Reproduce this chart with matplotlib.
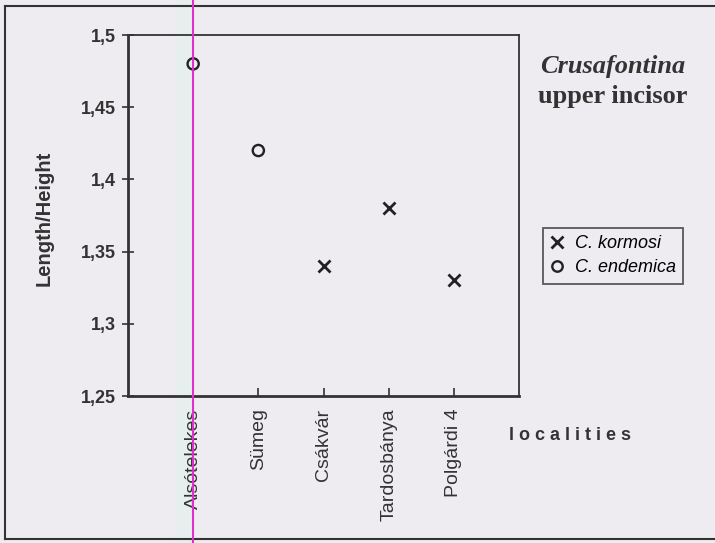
import matplotlib.pyplot as plt
from matplotlib.lines import Line2D
from matplotlib.patches import Rectangle

localities = ['Alsótelekes', 'Sümeg', 'Csákvár', 'Tardosbánya', 'Polgárdi 4']
kormosi_pos = [3, 4, 5]
kormosi_vals = [1.34, 1.38, 1.33]
endemica_pos = [1, 2]
endemica_vals = [1.48, 1.42]
yticks = [1.25, 1.3, 1.35, 1.4, 1.45, 1.5]
ytick_labels = ['1,25', '1,3', '1,35', '1,4', '1,45', '1,5']

bg = '#eeecf0'
ink = '#333333'
W, H = 715, 543

fig = plt.figure(figsize=(7.15, 5.43), dpi=100, facecolor=bg)
# faint cyan band of the scan next to the magenta line
fig.add_artist(Rectangle((175 / W, 0), 18 / W, 1, transform=fig.transFigure,
                         facecolor='#e7efee', edgecolor='none', zorder=0))

ax = fig.add_axes([128 / W, 1 - 396 / H, 391 / W, 361 / H])
ax.patch.set_visible(False)

ax.scatter(kormosi_pos, kormosi_vals, marker='x', s=75, c='#222222', linewidths=2, zorder=3)
ax.scatter(endemica_pos, endemica_vals, marker='o', s=65, facecolors='none',
           edgecolors='#222222', linewidths=1.7, zorder=3)

ax.set_xlim(0, 6)
ax.set_ylim(1.25, 1.5)
ax.set_yticks(yticks)
ax.set_yticklabels(ytick_labels, fontsize=13, fontweight='bold', family='Liberation Sans', color=ink)
ax.set_xticks(range(1, 6))
ax.set_xticklabels(localities, rotation=90, fontsize=14, family='Liberation Sans', color=ink)
ax.tick_params(axis='y', direction='inout', length=8, width=1.2, pad=5, colors=ink)
ax.tick_params(axis='x', direction='in', length=6, width=1.2, pad=9, colors=ink)

for side in ['left', 'bottom']:
    ax.spines[side].set_linewidth(2.0)
    ax.spines[side].set_color(ink)
for side in ['top', 'right']:
    ax.spines[side].set_linewidth(1.3)
    ax.spines[side].set_color(ink)

fig.text(44 / W, 1 - 218 / H, 'Length/Height', rotation=90, ha='center', va='center',
         fontsize=14.5, fontweight='bold', family='Liberation Sans', color=ink)
fig.text(570 / W, 1 - 435 / H, 'l o c a l i t i e s', ha='center', va='center',
         fontsize=13, fontweight='bold', family='Liberation Sans', color=ink)

fig.text(613 / W, 1 - 66 / H, 'Crusafontina', ha='center', va='center', fontsize=19,
         fontweight='bold', style='italic', family='Liberation Serif', color=ink)
fig.text(613 / W, 1 - 96 / H, 'upper incisor', ha='center', va='center', fontsize=19,
         fontweight='bold', family='Liberation Serif', color=ink)

handles = [Line2D([], [], marker='x', ls='none', color='#222222', ms=9, mew=2),
           Line2D([], [], marker='o', ls='none', mfc='none', mec='#222222', ms=7.5, mew=1.7)]
leg = fig.legend(handles, ['C. kormosi', 'C. endemica'], loc='upper left',
                 bbox_to_anchor=(543 / W, 1 - 228 / H), frameon=True, fancybox=False,
                 prop={'family': 'Liberation Sans', 'style': 'italic', 'size': 13},
                 handlelength=0.8, handletextpad=0.55, borderpad=0.4, borderaxespad=0,
                 labelspacing=0.4)
leg.get_frame().set_edgecolor(ink)
leg.get_frame().set_linewidth(1.3)
leg.get_frame().set_facecolor(bg)

# outer frame (right side falls off the scan)
fig.add_artist(Line2D([5 / W, 1.0], [1 - 6 / H, 1 - 6 / H], color=ink, lw=1.5))
fig.add_artist(Line2D([5 / W, 1.0], [1 - 539 / H, 1 - 539 / H], color=ink, lw=1.5))
fig.add_artist(Line2D([5 / W, 5 / W], [1 - 6 / H, 1 - 539 / H], color=ink, lw=1.5))

# magenta line across the scan
fig.add_artist(Line2D([193 / W, 193 / W], [0, 1], color='#e030c8', lw=1.5, zorder=5))

fig.savefig('out.png', dpi=100, facecolor=bg)
